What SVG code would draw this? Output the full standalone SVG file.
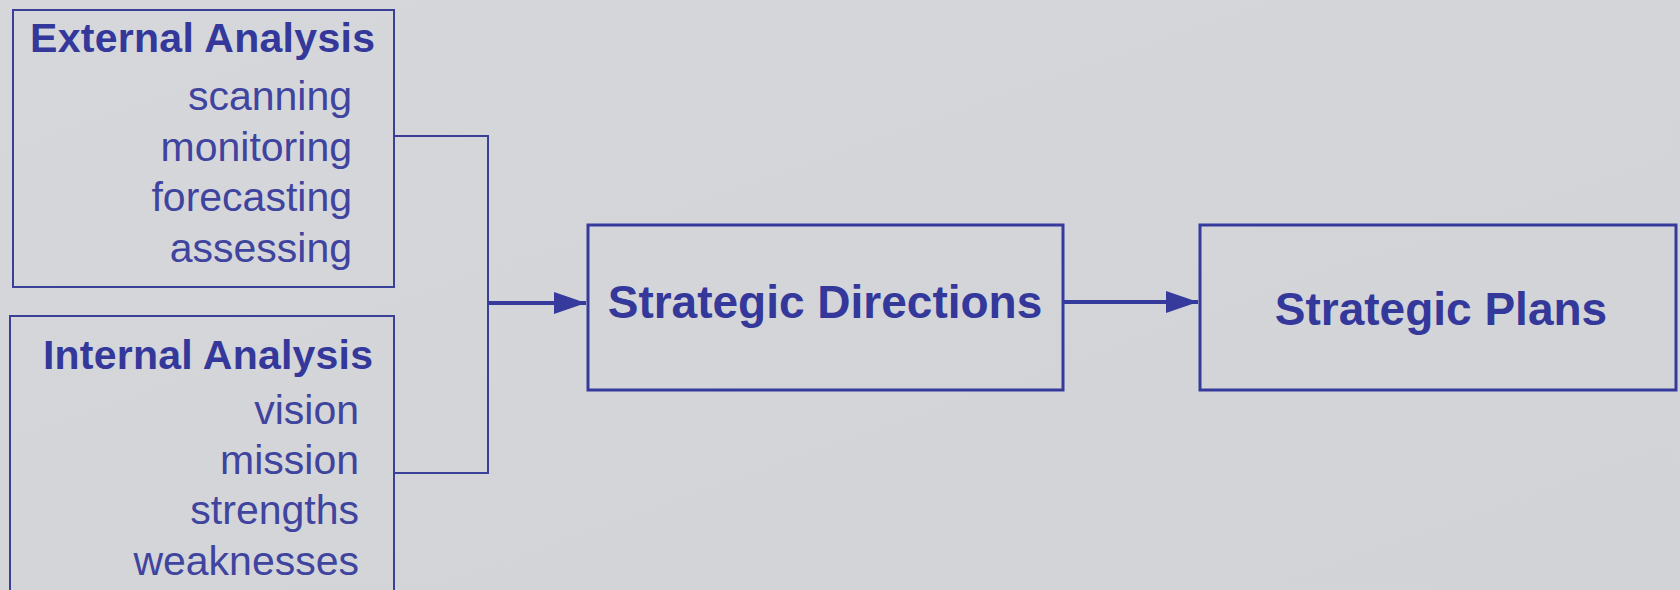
<svg xmlns="http://www.w3.org/2000/svg" width="1679" height="590" viewBox="0 0 1679 590">
  <defs>
    <marker id="arrow" viewBox="0 0 32 22" refX="32" refY="11" markerWidth="32" markerHeight="22" markerUnits="userSpaceOnUse" orient="auto">
      <path d="M0,0 L32,11 L0,22 z" fill="#353a9c"/>
    </marker>
    <linearGradient id="bg" x1="0" y1="0" x2="1" y2="1">
      <stop offset="0" stop-color="#d6d7db"/>
      <stop offset="1" stop-color="#d2d3d7"/>
    </linearGradient>
  </defs>
  <style>
    .box { fill: none; stroke: #3a3f98; stroke-width: 2; }
    .bigbox { fill: none; stroke: #353a9c; stroke-width: 3; }
    .title { font-family: "Liberation Sans", Arial, sans-serif; font-weight: bold; font-size: 41px; fill: #33389a; }
    .item { font-family: "Liberation Sans", Arial, sans-serif; font-size: 41px; fill: #3f449e; text-anchor: end; }
    .big { font-family: "Liberation Sans", Arial, sans-serif; font-weight: bold; font-size: 46px; fill: #33389a; text-anchor: middle; }
    .thin { fill: none; stroke: #3a3f98; stroke-width: 2; }
    .thick { fill: none; stroke: #353a9c; stroke-width: 4; }
  </style>
  <rect x="0" y="0" width="1679" height="590" fill="url(#bg)"/>

  <g id="external-analysis">
    <rect class="box" x="13" y="10" width="381" height="277"/>
    <text class="title" x="30" y="52" textLength="345">External Analysis</text>
    <text class="item" x="352" y="110">scanning</text>
    <text class="item" x="352" y="161">monitoring</text>
    <text class="item" x="352" y="211">forecasting</text>
    <text class="item" x="352" y="262">assessing</text>
  </g>

  <g id="internal-analysis">
    <rect class="box" x="10" y="316" width="384" height="290"/>
    <text class="title" x="43" y="369" textLength="330">Internal Analysis</text>
    <text class="item" x="359" y="424">vision</text>
    <text class="item" x="359" y="474">mission</text>
    <text class="item" x="359" y="524">strengths</text>
    <text class="item" x="359" y="575">weaknesses</text>
  </g>

  <g id="strategic-directions">
    <rect class="bigbox" x="588" y="225" width="475" height="165"/>
    <text class="big" x="825" y="318">Strategic Directions</text>
  </g>

  <g id="strategic-plans">
    <rect class="bigbox" x="1200" y="225" width="476" height="165"/>
    <text class="big" x="1441" y="325">Strategic Plans</text>
  </g>

  <g id="connectors">
    <polyline class="thin" points="394,136 488,136 488,473 394,473"/>
    <line class="thick" x1="488" y1="303" x2="586" y2="303" marker-end="url(#arrow)"/>
    <line class="thick" x1="1064" y1="302" x2="1198" y2="302" marker-end="url(#arrow)"/>
  </g>
</svg>
